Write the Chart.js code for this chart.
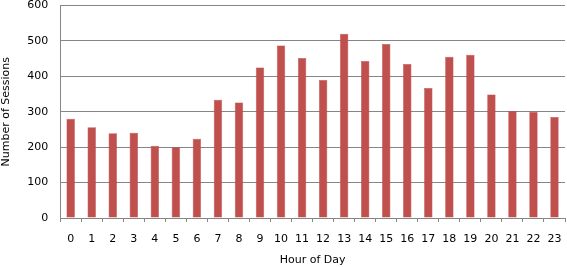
<!DOCTYPE html>
<html lang="en">
<head>
    <meta charset="UTF-8">
    <title>Sessions by Hour of Day</title>
    <script src="https://cdn.jsdelivr.net/npm/chart.js"></script>
    <style>
        html, body { margin: 0; padding: 0; background: #fff; }
        #wrap { width: 567px; height: 267px; }
    </style>
</head>
<body>
    <div id="wrap"><canvas id="grafico"></canvas></div>
    <script>
        const ore = ['0','1','2','3','4','5','6','7','8','9','10','11','12','13','14','15','16','17','18','19','20','21','22','23'];
        const sessioni = [280, 256, 239, 241, 204, 200, 224, 334, 326, 425, 487, 452, 390, 520, 443, 491, 435, 367, 455, 461, 349, 302, 300, 285];
        const yMin = 0, yMax = 600, yStep = 100;

        const ctx = document.getElementById('grafico').getContext('2d');
        new Chart(ctx, {
            type: 'bar',
            data: {
                labels: ore,
                datasets: [{
                    label: 'Number of Sessions',
                    data: sessioni,
                    backgroundColor: '#C0504D',
                    borderColor: '#B8433F',
                    borderWidth: 0.5,
                    barPercentage: 0.4,
                    categoryPercentage: 1.0
                }]
            },
            options: {
                responsive: true,
                maintainAspectRatio: false,
                animation: false,
                layout: { padding: { top: 0, right: 2, bottom: 0, left: 0 } },
                plugins: {
                    legend: { display: false },
                    tooltip: { enabled: false }
                },
                scales: {
                    x: {
                        grid: {
                            offset: true,
                            drawOnChartArea: false,
                            drawTicks: true,
                            tickLength: 4,
                            color: '#868686'
                        },
                        border: { color: '#868686' },
                        ticks: {
                            color: '#000',
                            // tall line box pushes the labels down without widening the side padding
                            font: { family: 'DejaVu Sans', size: 11, lineHeight: 2.8 },
                            padding: 2,
                            maxRotation: 0,
                            autoSkip: false
                        },
                        title: {
                            display: true,
                            text: 'Hour of Day',
                            color: '#000',
                            font: { family: 'DejaVu Sans', size: 11 },
                            padding: { top: -3, bottom: 0 }
                        }
                    },
                    y: {
                        min: yMin,
                        max: yMax,
                        grid: {
                            color: '#868686',
                            drawTicks: true,
                            tickLength: 12,
                            tickColor: 'rgba(0,0,0,0)'
                        },
                        border: { color: '#868686' },
                        ticks: {
                            stepSize: yStep,
                            color: '#000',
                            font: { family: 'DejaVu Sans', size: 11, lineHeight: 1 },
                            padding: 0
                        },
                        title: {
                            display: true,
                            text: 'Number of Sessions',
                            color: '#000',
                            font: { family: 'DejaVu Sans', size: 11 },
                            padding: { top: 0, bottom: 14 }
                        }
                    }
                }
            }
        });
    </script>
</body>
</html>
